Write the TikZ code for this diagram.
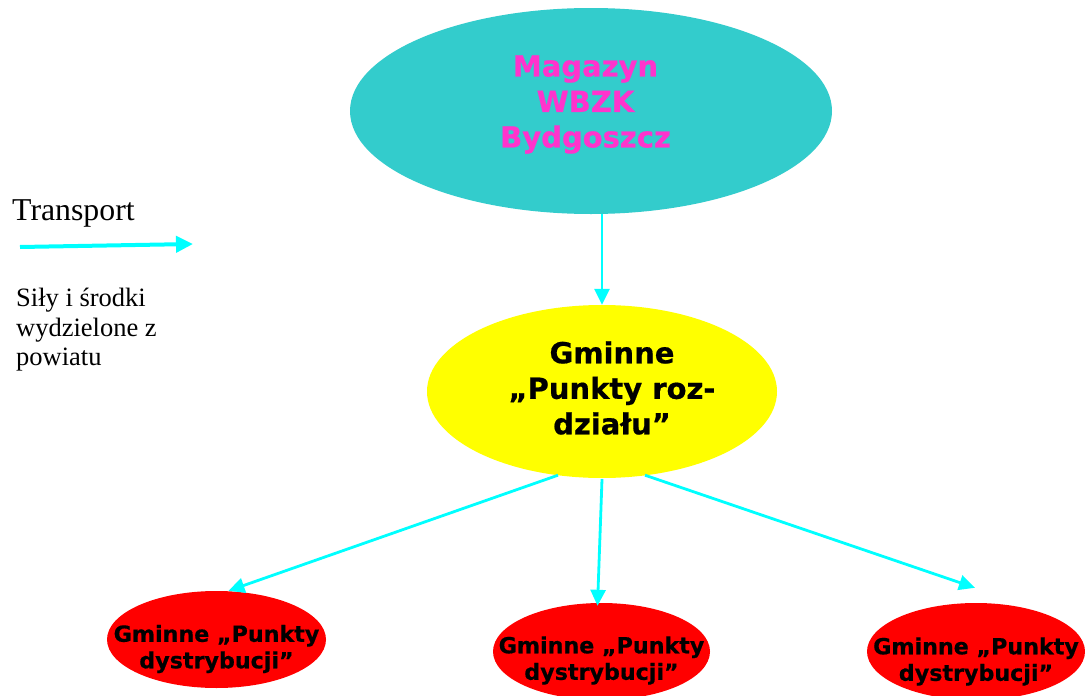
\documentclass[tikz,border=0pt]{standalone}
\usepackage{fontspec}
\setmainfont{Liberation Serif}
\newfontfamily\verd{DejaVu Sans}[BoldFeatures={FakeBold=0.6}]
\usetikzlibrary{shapes.geometric,arrows.meta,calc}
\definecolor{tealA}{HTML}{33CCCC}
\definecolor{magA}{HTML}{FF33CC}
\definecolor{yelA}{HTML}{FFFF00}
\definecolor{redA}{HTML}{FF0000}
\definecolor{cyanA}{HTML}{00FFFF}
\begin{document}
\begin{tikzpicture}[x=1pt,y=-1pt,
  blob/.style={ellipse,draw=none,inner sep=0pt},
  arr/.style={draw=cyanA,line width=2.8pt,-{Triangle[length=16pt,width=15pt,fill=cyanA]}},
  bigtxt/.style={align=center,inner sep=0pt,font=\verd\bfseries\fontsize{29}{35.5}\selectfont},
  smalltxt/.style={align=center,inner sep=0pt,font=\verd\bfseries\fontsize{22.2}{26.5}\selectfont},
  sertxt/.style={inner sep=0pt,align=left}]
\useasboundingbox (0,0) rectangle (1085,696);
\fill[white] (0,0) rectangle (1085,696);
% nodes
\node[blob,fill=tealA,minimum width=482pt,minimum height=206pt] (top) at (591,111) {};
\node[bigtxt,text=magA] (toptext) at (585.5,104.5) {Magazyn\\WBZK\\Bydgoszcz};
\node[blob,fill=yelA,minimum width=350pt,minimum height=173pt] (mid) at (602,391.5) {};
\node[bigtxt,text=black] (midtext) at (612,388) {Gminne\\„Punkty roz-\\działu”};
\node[blob,fill=redA,minimum width=219pt,minimum height=97pt] (r1) at (216.5,639.5) {};
\node[smalltxt] (r1text) at (216.5,649) {Gminne „Punkty\\dystrybucji”};
\node[blob,fill=redA,minimum width=217pt,minimum height=97pt] (r2) at (601.5,651.5) {};
\node[smalltxt] (r2text) at (601.5,660.5) {Gminne „Punkty\\dystrybucji”};
\node[blob,fill=redA,minimum width=218pt,minimum height=97pt] (r3) at (976,651.5) {};
\node[smalltxt] (r3text) at (976,661.5) {Gminne „Punkty\\dystrybucji”};
% legend
\node[sertxt,anchor=base west,font=\fontsize{31.8}{34}\selectfont] (tr) at (12,220) {Transport};
\coordinate (la) at (20,247);
\coordinate (lb) at (193,244);
\draw[draw=cyanA,line width=4pt,-{Triangle[length=17pt,width=16pt,fill=cyanA]}] (la) -- (lb);
\node[sertxt,anchor=north west,font=\fontsize{26.5}{29.5}\selectfont] (sily) at (16,288) {Siły i środki\\wydzielone z\\powiatu};
% connectors
\draw[arr] (top.south -| mid.north) -- (mid.north);
\draw[arr] ($(mid.south)+(-44,-3)$) -- ($(r1.north)+(12,0)$);
\draw[arr] ($(mid.south)+(0,1)$) -- ($(r2.north)+(-4,3)$);
\draw[arr] ($(mid.south)+(43,-3)$) -- ($(r3.north)+(-1,-15)$);
\end{tikzpicture}
\end{document}
